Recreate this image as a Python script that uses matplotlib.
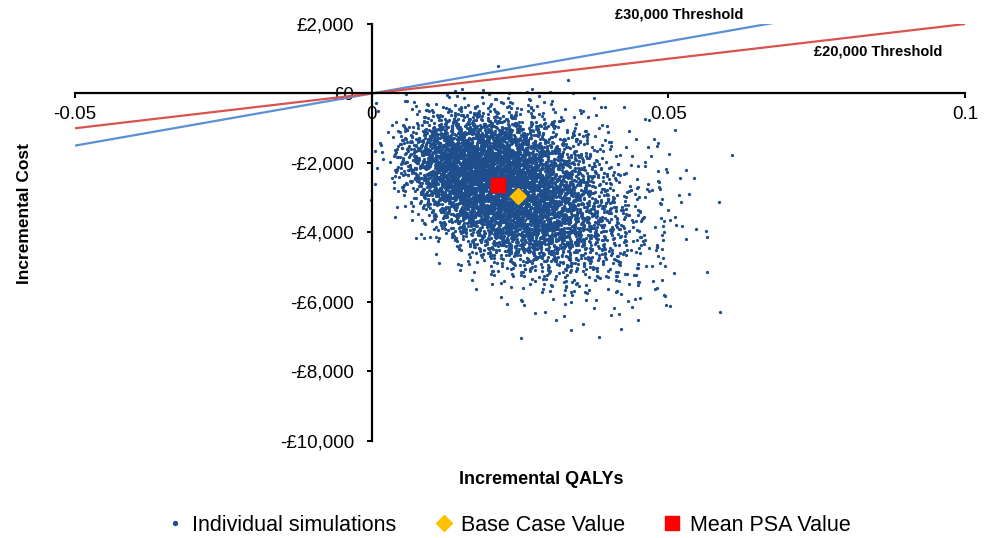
import numpy as np
import matplotlib
matplotlib.use("Agg")
import matplotlib.pyplot as plt
from matplotlib.lines import Line2D

plt.rcParams['font.family'] = ['Liberation Sans', 'DejaVu Sans']

# ---- data ----
# density of individual PSA simulations, counted per cell
# columns: incremental QALY bins of width 0.005 starting at 0.0
# rows: incremental cost bins of width 500 starting at 0 going down
qaly_bin_start = 0.0
qaly_bin_width = 0.005
cost_bin_start = 0.0
cost_bin_width = -500.0
sim_counts = [
    [2, 6, 10, 12, 10, 8, 5, 2, 1, 0, 0, 0, 0, 0],
    [1, 14, 50, 60, 50, 30, 12, 4, 3, 1, 0, 0, 0, 0],
    [2, 55, 140, 165, 135, 75, 30, 10, 4, 2, 1, 0, 0, 0],
    [5, 85, 230, 260, 215, 140, 62, 18, 6, 3, 0, 0, 1, 0],
    [3, 65, 230, 280, 260, 185, 95, 34, 11, 5, 2, 0, 0, 0],
    [1, 35, 170, 260, 265, 210, 135, 46, 16, 6, 2, 0, 0, 0],
    [0, 11, 100, 195, 240, 210, 145, 62, 22, 7, 3, 1, 0, 0],
    [0, 3, 36, 115, 180, 185, 140, 70, 26, 8, 3, 0, 0, 0],
    [0, 1, 10, 42, 100, 125, 105, 58, 25, 8, 3, 1, 0, 0],
    [0, 0, 2, 13, 34, 55, 52, 37, 18, 6, 2, 0, 0, 0],
    [0, 0, 0, 3, 8, 16, 19, 16, 12, 5, 1, 0, 0, 0],
    [0, 0, 0, 1, 3, 6, 8, 8, 6, 3, 1, 0, 0, 0],
    [0, 0, 0, 0, 1, 2, 3, 3, 3, 2, 0, 1, 0, 0],
    [0, 0, 0, 0, 0, 1, 1, 1, 1, 1, 0, 0, 0, 0],
]
# a few isolated simulations above the zero-cost line
extra_qaly = [0.0212, 0.0330, 0.0188, 0.0261]
extra_cost = [780, 400, 110, 30]

base_case = (0.0246, -2960)
mean_psa = (0.0212, -2640)

wtp_30k = 30000
wtp_20k = 20000

x_ticks = [-0.05, 0, 0.05, 0.1]
x_tick_labels = ['-0.05', '0', '0.05', '0.1']
y_ticks = [2000, 0, -2000, -4000, -6000, -8000, -10000]
y_tick_labels = ['£2,000', '£0', '-£2,000', '-£4,000', '-£6,000', '-£8,000', '-£10,000']


# ---- expand the cell counts into points (deterministic Halton placement, tent-shaped over ±1 cell) ----
def halton(i, b):
    f, r = 1.0, 0.0
    while i > 0:
        f /= b
        r += f * (i % b)
        i //= b
    return r


px, py = [], []
k = 0
for r, row in enumerate(sim_counts):
    for c, n in enumerate(row):
        cx = qaly_bin_start + (c + 0.5) * qaly_bin_width
        cy = cost_bin_start + (r + 0.5) * cost_bin_width
        for i in range(n):
            k += 1
            u = halton(k, 2) + halton(k, 5) - 1.0
            v = halton(k, 3) + halton(k, 7) - 1.0
            px.append(cx + u * qaly_bin_width)
            py.append(cy + v * abs(cost_bin_width))
px += extra_qaly
py += extra_cost

fig = plt.figure(figsize=(9.86, 5.38), dpi=100)
ax = fig.add_axes([0.0761, 0.1803, 0.9027, 0.7751])

sim_color = '#1F4E8C'
ax.scatter(px, py, s=5.5, c=sim_color, linewidths=0, zorder=3)

xs = np.array([-0.05, 0.1])
ax.plot(xs, wtp_30k * xs, color='#5B8FD6', lw=1.6, zorder=2)
ax.plot(xs, wtp_20k * xs, color='#D9534F', lw=1.6, zorder=2)

ax.plot(*mean_psa, marker='s', ms=10, color='#FF0000', ls='none', zorder=5)
ax.plot(*base_case, marker='D', ms=8.5, color='#FFC000', ls='none', zorder=5)

ax.set_xlim(-0.05, 0.1)
ax.set_ylim(-10000, 2000)

for s in ['top', 'right']:
    ax.spines[s].set_visible(False)
ax.spines['left'].set_position(('data', 0))
ax.spines['bottom'].set_position(('data', 0))
for s in ['left', 'bottom']:
    ax.spines[s].set_linewidth(1.6)
    ax.spines[s].set_color('black')
    ax.spines[s].set_zorder(4)

ax.set_xticks(x_ticks)
ax.set_xticklabels(x_tick_labels)
ax.set_yticks(y_ticks)
ax.set_yticklabels(y_tick_labels)
ax.tick_params(axis='both', direction='out', length=3.8, width=1.4, labelsize=13.5, colors='black')
ax.tick_params(axis='x', pad=5)
ax.tick_params(axis='y', pad=9)

fig.text(0.549, 0.109, 'Incremental QALYs', ha='center', va='center', fontsize=13, fontweight='bold')
fig.text(0.025, 0.604, 'Incremental Cost', ha='center', va='center', rotation=90,
         fontsize=12.5, fontweight='bold')

ax.text(0.0519, 2270, '£30,000 Threshold', ha='center', va='center',
        fontsize=10.5, fontweight='bold', clip_on=False)
ax.text(0.0854, 1200, '£20,000 Threshold', ha='center', va='center', fontsize=10.5, fontweight='bold')

handles = [
    Line2D([], [], marker='o', ms=2.8, color=sim_color, ls='none'),
    Line2D([], [], marker='D', ms=8, color='#FFC000', ls='none'),
    Line2D([], [], marker='s', ms=10, color='#FF0000', ls='none'),
]
labels = ['Individual simulations', 'Base Case Value', 'Mean PSA Value']
fig.legend(handles, labels, loc='center', bbox_to_anchor=(0.516, 0.024), ncol=3, frameon=False,
           fontsize=15.5, handlelength=0.7, handletextpad=0.45, columnspacing=1.85)

fig.savefig('out.png', dpi=100)
